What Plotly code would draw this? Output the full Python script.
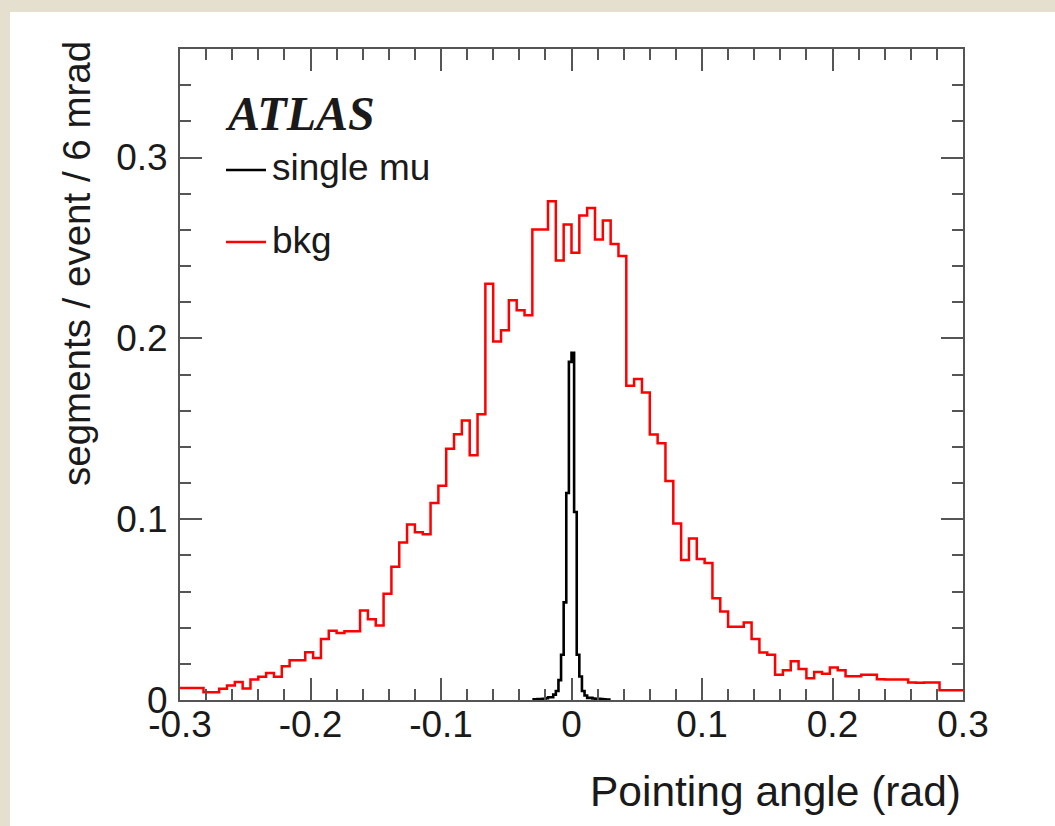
import numpy as np
import plotly.graph_objects as go

# Background segments per event, 6 mrad bins from -0.3 to 0.3 rad
bkg_lo = -0.3
bkg_bin = 0.006
bkg_counts = [
    0.0067, 0.0067, 0.0067, 0.0043, 0.0043, 0.0062, 0.0080, 0.0100, 0.0063, 0.0113,
    0.0128, 0.0150, 0.0128, 0.0186, 0.0220, 0.0220, 0.0264, 0.0232, 0.0337, 0.0383,
    0.0370, 0.0380, 0.0380, 0.0495, 0.0447, 0.0412, 0.0588, 0.0737, 0.0871, 0.0970,
    0.0927, 0.0917, 0.1090, 0.1185, 0.1390, 0.1470, 0.1545, 0.1353, 0.1580, 0.2302,
    0.1982, 0.2045, 0.2210, 0.2155, 0.2128, 0.2602, 0.2602, 0.2758, 0.2431, 0.2629,
    0.2473, 0.2679, 0.2721, 0.2546, 0.2651, 0.2522, 0.2455, 0.1738, 0.1775, 0.1700,
    0.1468, 0.1420, 0.1211, 0.0976, 0.0774, 0.0893, 0.0780, 0.0757, 0.0563, 0.0490,
    0.0405, 0.0405, 0.0429, 0.0338, 0.0262, 0.0250, 0.0140, 0.0164, 0.0214, 0.0172,
    0.0120, 0.0155, 0.0145, 0.0180, 0.0164, 0.0131, 0.0131, 0.0139, 0.0139, 0.0115,
    0.0113, 0.0113, 0.0113, 0.0097, 0.0095, 0.0097, 0.0097, 0.0054, 0.0054, 0.0054,
]

# Single muon segments per event, 2 mrad bins from -0.03 to 0.03 rad
mu_lo = -0.03
mu_bin = 0.002
mu_counts = [
    0.0004, 0.0004, 0.0005, 0.0005, 0.0006, 0.0010, 0.0015, 0.0015, 0.0030, 0.0050,
    0.0110, 0.0250, 0.0540, 0.1145, 0.1870, 0.1920, 0.1040, 0.0250, 0.0130, 0.0050,
    0.0025, 0.0012, 0.0012, 0.0008, 0.0006, 0.0006, 0.0005, 0.0004, 0.0003, 0.0003,
]

x_tick_vals = [-0.3, -0.2, -0.1, 0.0, 0.1, 0.2, 0.3]
x_tick_text = ["-0.3", "-0.2", "-0.1", "0", "0.1", "0.2", "0.3"]
y_tick_vals = [0.0, 0.1, 0.2, 0.3]
y_tick_text = ["0", "0.1", "0.2", "0.3"]

FONT = "Liberation Sans, Arial, sans-serif"
AXIS_GREY = "#555555"
TEXT = "#1a1a1a"


def step_xy(lo, width, counts):
    """Bin edges and values for an 'hv' step line covering every bin."""
    edges = np.round(lo + width * np.arange(len(counts) + 1), 6)
    values = list(counts) + [counts[-1]]
    return edges, values


fig = go.Figure()

bx, by = step_xy(bkg_lo, bkg_bin, bkg_counts)
fig.add_trace(go.Scatter(x=bx, y=by, mode="lines", line_shape="hv",
                         line=dict(color="#ff0000", width=2.5), name="bkg",
                         showlegend=False))

mx, my = step_xy(mu_lo, mu_bin, mu_counts)
fig.add_trace(go.Scatter(x=mx, y=my, mode="lines", line_shape="hv",
                         line=dict(color="#000000", width=2.6), name="single mu",
                         showlegend=False))

axis_common = dict(
    showgrid=False, zeroline=False,
    showline=True, linecolor=AXIS_GREY, linewidth=2, mirror="allticks",
    ticks="inside", ticklen=22, tickwidth=1.5, tickcolor=AXIS_GREY,
    tickfont=dict(family=FONT, size=37, color=TEXT),
    tickmode="array",
)
minor_ticks = dict(tickmode="linear", tick0=0, dtick=0.02, ticks="inside",
                   ticklen=11, tickwidth=1.5, tickcolor=AXIS_GREY, showgrid=False)

fig.update_xaxes(range=[-0.3, 0.3], tickvals=x_tick_vals, ticktext=x_tick_text,
                 minor=minor_ticks, ticklabelstandoff=-9, **axis_common)
fig.update_yaxes(range=[0, 0.36], tickvals=y_tick_vals, ticktext=y_tick_text,
                 minor=minor_ticks, ticklabelstandoff=3, **axis_common)

# plot area spans 180..963 px horizontally and 49..700 px vertically
def px(xp):
    return (xp - 180) / 783.0


def py(yp):
    return (700 - yp) / 651.0


shapes = [
    # white page panel over the beige backdrop
    dict(type="rect", xref="paper", yref="paper", layer="below",
         x0=px(10), x1=px(1060), y0=py(12), y1=py(830),
         fillcolor="white", line=dict(width=0)),
    # legend samples
    dict(type="line", xref="paper", yref="paper",
         x0=px(226), x1=px(266), y0=py(170), y1=py(170),
         line=dict(color="#000000", width=2.5)),
    dict(type="line", xref="paper", yref="paper",
         x0=px(226), x1=px(266), y0=py(242), y1=py(242),
         line=dict(color="#ff0000", width=2.5)),
]

annotations = [
    dict(text="<b><i>ATLAS</i></b>", xref="paper", yref="paper",
         x=px(223), y=py(114), xanchor="left", yanchor="middle", showarrow=False,
         font=dict(family="Liberation Serif, Times New Roman, serif", size=48, color=TEXT)),
    dict(text="single mu", xref="paper", yref="paper",
         x=px(270), y=py(168), xanchor="left", yanchor="middle", showarrow=False,
         font=dict(family=FONT, size=37, color=TEXT)),
    dict(text="bkg", xref="paper", yref="paper",
         x=px(270), y=py(240), xanchor="left", yanchor="middle", showarrow=False,
         font=dict(family=FONT, size=37, color=TEXT)),
    dict(text="segments / event / 6 mrad", xref="paper", yref="paper",
         x=px(76), y=py(264), xanchor="center", yanchor="middle", showarrow=False,
         textangle=-90, font=dict(family=FONT, size=38.5, color=TEXT)),
    dict(text="Pointing angle (rad)", xref="paper", yref="paper",
         x=px(963), y=py(792), xanchor="right", yanchor="middle", showarrow=False,
         font=dict(family=FONT, size=42.5, color=TEXT)),
]

fig.update_layout(
    width=1055, height=826, autosize=False,
    margin=dict(l=180, r=92, t=49, b=126, pad=0),
    paper_bgcolor="#e4dfcf", plot_bgcolor="white",
    shapes=shapes, annotations=annotations, showlegend=False,
)

fig.write_html("out.html")
